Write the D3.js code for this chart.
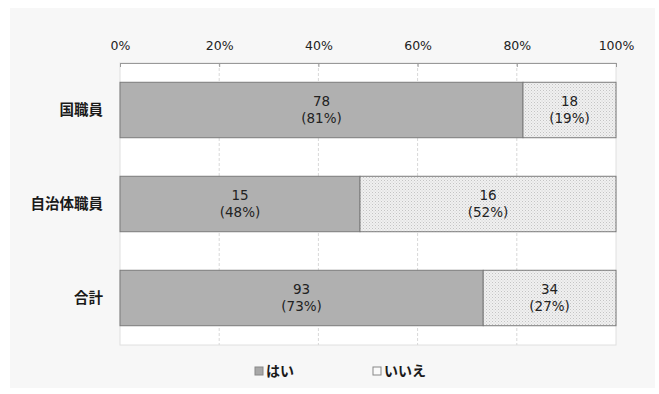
<!DOCTYPE html>
<html><head><meta charset="utf-8">
<script src="https://cdn.jsdelivr.net/npm/d3@7"></script>
<style>body{margin:0;background:#fff}svg{display:block}</style>
</head><body>
<svg id="c" width="659" height="394"></svg>
<script>
const categories = ["国職員", "自治体職員", "合計"];
const yesValues = [78, 15, 93];
const noValues = [18, 16, 34];
const yesPct = [81, 48, 73];
const noPct = [19, 52, 27];
const tickValues = [0, 0.2, 0.4, 0.6, 0.8, 1.0];
const legendLabels = ["はい", "いいえ"];

(function(){
const svg = d3.select("#c");
const font = "'Noto Sans CJK JP', 'DejaVu Sans', sans-serif";
const numFont = "'DejaVu Sans', sans-serif";

const defs = svg.append("defs");
const pat = defs.append("pattern").attr("id","dots").attr("width",3).attr("height",3).attr("patternUnits","userSpaceOnUse");
pat.append("rect").attr("width",3).attr("height",3).attr("fill","#f0f0f0");
pat.append("rect").attr("x",0).attr("y",0).attr("width",1).attr("height",1).attr("fill","#c4c4c4");
pat.append("rect").attr("x",1.5).attr("y",1.5).attr("width",1).attr("height",1).attr("fill","#d0d0d0");

// outer panel
svg.append("rect").attr("x",10).attr("y",8).attr("width",645).attr("height",380).attr("fill","#f7f7f7");

const pl = 120, pr = 616, pt = 63, pb = 345;
const x = d3.scaleLinear().domain([0,1]).range([pl,pr]);
const y = d3.scaleBand().domain(categories).range([pt,pb]).paddingInner(0.41).paddingOuter(0.205);

svg.append("rect").attr("x",pl).attr("y",pt).attr("width",pr-pl).attr("height",pb-pt).attr("fill","#fff").attr("stroke","#e0e0e0");

// gridlines
svg.append("g").selectAll("line").data(tickValues.slice(1,-1)).join("line")
  .attr("x1",d=>x(d)).attr("x2",d=>x(d)).attr("y1",pt).attr("y2",pb)
  .attr("stroke","#d8d8d8").attr("stroke-dasharray","3,2");

// top axis
const axis = d3.axisTop(x).tickValues(tickValues).tickFormat(d3.format(".0%")).tickSize(-4).tickPadding(13);
const ag = svg.append("g").attr("transform",`translate(0,${pt})`).call(axis);
ag.select(".domain").attr("stroke","#999");
ag.selectAll(".tick line").attr("stroke","#999");
ag.selectAll("text").attr("font-family",numFont).attr("font-size",12.5).attr("fill","#222");

const rows = categories.map((c,i)=>({c, yes:yesValues[i], no:noValues[i], yp:yesPct[i], np:noPct[i], tot:yesValues[i]+noValues[i]}));

const g = svg.append("g");
rows.forEach(r=>{
  const f = r.yes / r.tot;
  const y0 = y(r.c), h = y.bandwidth();
  g.append("rect").attr("x",x(0)).attr("y",y0).attr("width",x(f)-x(0)).attr("height",h)
    .attr("fill","#b0b0b0").attr("stroke","#7a7a7a").attr("stroke-width",1);
  g.append("rect").attr("x",x(f)).attr("y",y0).attr("width",x(1)-x(f)).attr("height",h)
    .attr("fill","url(#dots)").attr("stroke","#7a7a7a").attr("stroke-width",1);
  const segs = [[0,f,r.yes,r.yp],[f,1,r.no,r.np]];
  segs.forEach(([a,b,v,p])=>{
    const cx = (x(a)+x(b))/2, cy = y0 + h/2;
    g.append("text").attr("x",cx).attr("y",cy-4).attr("text-anchor","middle")
      .attr("font-family",numFont).attr("font-size",13.5).attr("fill","#222").text(v);
    g.append("text").attr("x",cx).attr("y",cy+13).attr("text-anchor","middle")
      .attr("font-family",numFont).attr("font-size",13.5).attr("fill","#222").text(`(${p}%)`);
  });
  g.append("text").attr("x",103).attr("y",y0+h/2+5).attr("text-anchor","end")
    .attr("font-family",font).attr("font-size",14.5).attr("font-weight","bold").attr("fill","#1a1a1a").text(r.c);
});

// legend
const lg = svg.append("g");
const lx = [255, 373];
legendLabels.forEach((t,i)=>{
  lg.append("rect").attr("x",lx[i]).attr("y",367).attr("width",8).attr("height",8)
    .attr("fill", i===0 ? "#a8a8a8" : "#fafafa").attr("stroke","#888");
  lg.append("text").attr("x",lx[i]+11).attr("y",376).attr("font-family",font)
    .attr("font-size",14).attr("font-weight","bold").attr("fill","#1a1a1a").text(t);
});
})();
</script>
</body></html>
